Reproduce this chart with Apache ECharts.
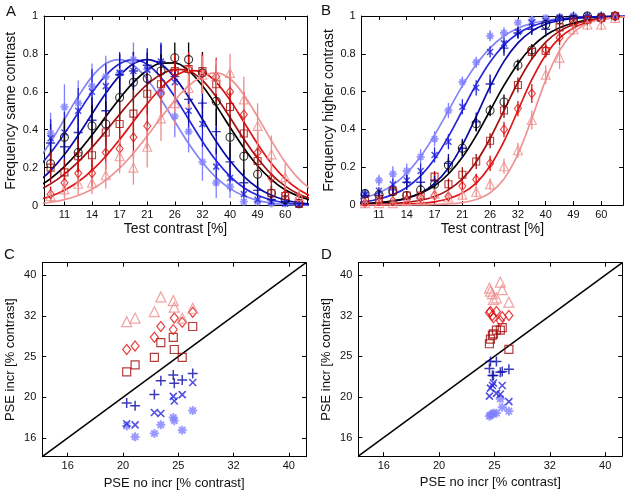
<!DOCTYPE html>
<html><head><meta charset="utf-8">
<script src="https://cdn.jsdelivr.net/npm/echarts@6/dist/echarts.min.js"></script>
<style>html,body{margin:0;padding:0;background:#fff}#c{width:629px;height:497px}</style>
</head><body><div id="c"></div>
<script>
// ================= DATA =================
// test contrast levels [%] (log spaced); fitted curves are read at curveContrast
const curveContrast = [8.90, 9.89, 11.0, 12.23, 13.60, 15.12, 16.82, 18.70, 20.80, 23.12, 25.71, 28.59, 31.80, 35.36, 39.32, 43.72, 48.61, 54.06, 60.11, 66.84, 74.33];
const testContrast = [9.89, 11.0, 12.23, 13.60, 15.12, 16.82, 18.70, 20.80, 23.12, 25.71, 28.59, 31.80, 35.36, 39.32, 43.72, 48.61, 54.06, 60.11, 66.84];
const xTickValues = [11.0, 13.60, 16.82, 20.80, 25.71, 31.80, 39.32, 48.61, 60.11];
const xTickLabels = ['11', '14', '17', '21', '26', '32', '40', '49', '60'];
const xRangeA = [9.40, 71.08];
const xRangeB = [9.64, 71.08];
const pseTickValues = [16, 20, 25, 31.25, 39.06];
const pseTickLabels = ['16', '20', '25', '32', '40'];
const pseRange = [14.44, 41.86];

// Panel A: frequency "same contrast"
const sameAst  = [0.38, 0.52, 0.54, 0.63, 0.68, 0.70, 0.77, 0.72, 0.60, 0.47, 0.39, 0.23, 0.12, 0.10, 0.02, 0.02, 0.01, 0.01, 0.005];
const sameX    = [0.355, 0.385, 0.50, 0.60, 0.63, 0.70, 0.71, 0.715, 0.76, 0.65, 0.50, 0.43, 0.205, 0.145, 0.06, 0.03, 0.02, 0.01, 0.005];
const samePlus = [0.33, 0.31, 0.385, 0.45, 0.50, 0.69, 0.71, 0.74, 0.76, 0.68, 0.56, 0.54, 0.39, 0.23, 0.12, 0.08, 0.03, 0.02, 0.01];
const sameCirc = [0.22, 0.36, 0.28, 0.42, 0.43, 0.57, 0.65, 0.67, 0.71, 0.78, 0.77, 0.70, 0.55, 0.36, 0.26, 0.165, 0.065, 0.03, 0.01];
const sameSq   = [0.20, 0.175, 0.26, 0.265, 0.385, 0.43, 0.485, 0.59, 0.64, 0.71, 0.72, 0.71, 0.64, 0.52, 0.38, 0.235, 0.065, 0.05, 0.01];
const sameDia  = [0.06, 0.12, 0.17, 0.17, 0.28, 0.30, 0.36, 0.42, 0.59, 0.70, 0.72, 0.70, 0.68, 0.60, 0.48, 0.28, 0.145, 0.06, 0.04];
const sameTri  = [0.05, 0.085, 0.115, 0.12, 0.16, 0.26, 0.20, 0.31, 0.46, 0.54, 0.62, 0.69, 0.68, 0.70, 0.56, 0.42, 0.27, 0.15, 0.05];
const errSameAst  = [0.11, 0.12, 0.12, 0.12, 0.11, 0.10, 0.09, 0.09, 0.10, 0.11, 0.11, 0.10, 0.08, 0.06, 0.02, 0.02, 0.01, 0.01, 0.01];
const errSameX    = [0.10, 0.11, 0.12, 0.12, 0.12, 0.11, 0.10, 0.09, 0.10, 0.11, 0.12, 0.12, 0.10, 0.07, 0.05, 0.03, 0.02, 0.01, 0.01];
const errSamePlus = [0.10, 0.11, 0.12, 0.12, 0.12, 0.11, 0.10, 0.09, 0.09, 0.10, 0.12, 0.13, 0.12, 0.10, 0.07, 0.05, 0.03, 0.02, 0.01];
const errSameCirc = [0.08, 0.10, 0.10, 0.11, 0.12, 0.12, 0.11, 0.10, 0.09, 0.08, 0.09, 0.11, 0.13, 0.12, 0.10, 0.07, 0.04, 0.03, 0.02];
const errSameSq   = [0.08, 0.07, 0.09, 0.09, 0.11, 0.12, 0.12, 0.11, 0.10, 0.09, 0.08, 0.09, 0.10, 0.12, 0.11, 0.09, 0.04, 0.03, 0.02];
const errSameDia  = [0.04, 0.06, 0.07, 0.07, 0.09, 0.10, 0.11, 0.12, 0.12, 0.10, 0.09, 0.09, 0.10, 0.11, 0.12, 0.11, 0.08, 0.04, 0.03];
const errSameTri  = [0.03, 0.05, 0.06, 0.06, 0.07, 0.09, 0.09, 0.11, 0.12, 0.12, 0.11, 0.10, 0.09, 0.10, 0.12, 0.12, 0.10, 0.07, 0.04];
const fitSameAst  = [0.231, 0.335, 0.455, 0.575, 0.680, 0.749, 0.770, 0.740, 0.666, 0.561, 0.443, 0.327, 0.227, 0.147, 0.089, 0.051, 0.027, 0.013, 0.006, 0.003, 0.001];
const fitSameX    = [0.192, 0.278, 0.379, 0.489, 0.597, 0.687, 0.748, 0.770, 0.745, 0.675, 0.573, 0.455, 0.338, 0.236, 0.154, 0.094, 0.054, 0.029, 0.014, 0.007, 0.003];
const fitSamePlus = [0.119, 0.184, 0.269, 0.371, 0.483, 0.592, 0.685, 0.748, 0.770, 0.745, 0.675, 0.573, 0.455, 0.338, 0.236, 0.154, 0.094, 0.054, 0.029, 0.014, 0.007];
const fitSameCirc = [0.094, 0.142, 0.205, 0.282, 0.372, 0.469, 0.565, 0.650, 0.714, 0.751, 0.753, 0.712, 0.632, 0.527, 0.413, 0.304, 0.210, 0.137, 0.083, 0.048, 0.026];
const fitSameSq   = [0.076, 0.114, 0.166, 0.230, 0.307, 0.392, 0.481, 0.566, 0.639, 0.691, 0.718, 0.711, 0.660, 0.573, 0.464, 0.351, 0.249, 0.164, 0.102, 0.059, 0.032];
const fitSameDia  = [0.029, 0.049, 0.081, 0.125, 0.185, 0.260, 0.348, 0.443, 0.537, 0.620, 0.681, 0.712, 0.705, 0.650, 0.556, 0.441, 0.325, 0.222, 0.141, 0.083, 0.045];
const fitSameTri  = [0.009, 0.017, 0.031, 0.053, 0.086, 0.134, 0.197, 0.276, 0.367, 0.463, 0.555, 0.631, 0.682, 0.700, 0.669, 0.585, 0.468, 0.342, 0.228, 0.139, 0.078];

// Panel B: frequency "higher contrast"
const higherAst  = [0.065, 0.13, 0.165, 0.18, 0.255, 0.35, 0.50, 0.65, 0.755, 0.895, 0.91, 0.965, 0.98, 0.99, 0.995, 1.0, 1.0, 1.0, 1.0];
const higherX    = [0.055, 0.075, 0.11, 0.13, 0.18, 0.265, 0.335, 0.52, 0.62, 0.81, 0.855, 0.915, 0.965, 0.975, 0.99, 0.995, 1.0, 1.0, 1.0];
const higherPlus = [0.05, 0.05, 0.08, 0.12, 0.12, 0.13, 0.22, 0.30, 0.44, 0.64, 0.83, 0.91, 0.93, 0.93, 0.99, 1.0, 1.0, 1.0, 1.0];
const higherCirc = [0.06, 0.055, 0.07, 0.05, 0.08, 0.11, 0.21, 0.30, 0.43, 0.50, 0.545, 0.74, 0.82, 0.955, 0.98, 0.98, 1.0, 0.99, 1.0];
const higherSq   = [0.02, 0.03, 0.075, 0.05, 0.05, 0.15, 0.11, 0.16, 0.23, 0.34, 0.50, 0.635, 0.81, 0.815, 0.94, 0.97, 0.98, 0.99, 1.0];
const higherDia  = [0.01, 0.02, 0.02, 0.03, 0.04, 0.05, 0.045, 0.10, 0.135, 0.22, 0.40, 0.51, 0.59, 0.82, 0.885, 0.96, 0.98, 0.985, 1.0];
const higherTri  = [0.01, 0.01, 0.01, 0.02, 0.03, 0.06, 0.04, 0.055, 0.07, 0.11, 0.205, 0.29, 0.45, 0.69, 0.78, 0.93, 0.955, 0.955, 0.99];
const errHigherAst  = [0.02, 0.03, 0.04, 0.04, 0.04, 0.04, 0.04, 0.03, 0.03, 0.03, 0.03, 0.02, 0.02, 0.01, 0.01, 0.01, 0.01, 0.01, 0.01];
const errHigherX    = [0.02, 0.02, 0.03, 0.03, 0.04, 0.04, 0.04, 0.04, 0.04, 0.03, 0.03, 0.03, 0.02, 0.02, 0.01, 0.01, 0.01, 0.01, 0.01];
const errHigherPlus = [0.02, 0.02, 0.03, 0.04, 0.05, 0.04, 0.05, 0.05, 0.05, 0.05, 0.04, 0.03, 0.03, 0.04, 0.02, 0.01, 0.01, 0.01, 0.01];
const errHigherCirc = [0.02, 0.02, 0.02, 0.02, 0.03, 0.03, 0.04, 0.04, 0.04, 0.03, 0.04, 0.03, 0.03, 0.02, 0.02, 0.01, 0.01, 0.01, 0.01];
const errHigherSq   = [0.01, 0.02, 0.02, 0.02, 0.02, 0.03, 0.03, 0.04, 0.04, 0.04, 0.04, 0.04, 0.04, 0.03, 0.02, 0.02, 0.01, 0.01, 0.01];
const errHigherDia  = [0.01, 0.01, 0.01, 0.02, 0.02, 0.02, 0.02, 0.03, 0.03, 0.04, 0.04, 0.04, 0.05, 0.04, 0.04, 0.02, 0.02, 0.01, 0.01];
const errHigherTri  = [0.01, 0.01, 0.01, 0.01, 0.02, 0.02, 0.02, 0.03, 0.03, 0.03, 0.04, 0.04, 0.05, 0.05, 0.06, 0.03, 0.03, 0.03, 0.02];
const fitHigherAst  = [0.024, 0.040, 0.065, 0.106, 0.169, 0.257, 0.370, 0.500, 0.630, 0.743, 0.831, 0.894, 0.935, 0.961, 0.976, 0.986, 0.992, 0.995, 0.997, 0.998, 0.999];
const fitHigherX    = [0.011, 0.018, 0.032, 0.055, 0.093, 0.154, 0.243, 0.362, 0.500, 0.638, 0.757, 0.846, 0.907, 0.945, 0.968, 0.982, 0.990, 0.994, 0.997, 0.998, 0.999];
const fitHigherPlus = [0.003, 0.005, 0.010, 0.019, 0.035, 0.063, 0.114, 0.196, 0.317, 0.468, 0.626, 0.760, 0.858, 0.920, 0.956, 0.976, 0.987, 0.993, 0.996, 0.998, 0.999];
const fitHigherCirc = [0.004, 0.008, 0.013, 0.022, 0.037, 0.062, 0.102, 0.164, 0.252, 0.367, 0.500, 0.633, 0.748, 0.836, 0.898, 0.938, 0.963, 0.978, 0.987, 0.993, 0.996];
const fitHigherSq   = [0.001, 0.002, 0.004, 0.008, 0.014, 0.025, 0.045, 0.080, 0.138, 0.228, 0.352, 0.500, 0.648, 0.772, 0.862, 0.920, 0.955, 0.975, 0.986, 0.993, 0.996];
const fitHigherDia  = [0.000, 0.001, 0.001, 0.002, 0.005, 0.009, 0.017, 0.033, 0.063, 0.116, 0.206, 0.337, 0.500, 0.663, 0.794, 0.884, 0.937, 0.967, 0.983, 0.991, 0.996];
const fitHigherTri  = [0.000, 0.000, 0.000, 0.000, 0.001, 0.001, 0.003, 0.006, 0.013, 0.029, 0.065, 0.138, 0.269, 0.458, 0.661, 0.818, 0.912, 0.960, 0.982, 0.992, 0.997];

// Panel C: PSE [% contrast], 8 observers
const cNoIncr   = [20.3, 21.0, 22.7, 23.3, 24.5, 24.6, 25.4, 26.5];
const cIncrAst  = [17.1, 16.1, 16.4, 17.2, 17.9, 17.6, 16.7, 18.6];
const cIncrX    = [17.3, 17.2, 18.4, 18.3, 20.1, 19.6, 20.3, 21.7];
const cIncrPlus = [19.4, 19.1, 20.3, 21.9, 22.6, 21.6, 22.0, 22.8];
const cIncrSq   = [23.0, 23.9, 24.9, 27.0, 27.8, 26.0, 24.9, 29.5];
const cIncrDia  = [26.0, 26.5, 27.8, 29.5, 29.0, 30.9, 30.2, 31.9];
const cIncrTri  = [30.3, 30.9, 32.0, 34.7, 34.0, 32.8, 30.9, 32.6];

// Panel D: PSE [% contrast], 8 observers
const dNoIncr   = [24.5, 24.6, 24.8, 24.9, 25.2, 25.6, 25.8, 26.5];
const dIncrAst  = [18.0, 18.1, 18.2, 18.3, 18.3, 19.8, 18.9, 18.5];
const dIncrX    = [20.1, 21.0, 21.3, 21.6, 20.4, 20.3, 21.3, 19.5];
const dIncrPlus = [23.4, 24.3, 22.5, 22.5, 24.3, 22.9, 23.0, 23.3];
const dIncrSq   = [26.8, 27.5, 28.1, 28.3, 28.9, 28.9, 29.3, 26.0];
const dIncrDia  = [31.8, 32.0, 31.3, 30.9, 32.0, 30.4, 31.1, 31.3];
const dIncrTri  = [36.4, 35.8, 35.3, 34.2, 34.5, 37.6, 36.1, 33.7];

// ================= STYLE =================
const FONT = '"Liberation Sans", Arial, Helvetica, sans-serif';
const L = Math.log;
const AST = 'path://M5,0L5,10M0,5L10,5M1.5,1.5L8.5,8.5M8.5,1.5L1.5,8.5';
const XS = 'path://M0,0L10,10M10,0L0,10';
const PLUS = 'path://M5,0L5,10M0,5L10,5';
const styles = [
  {sym: AST, size: 8, color: '#8080ff', line: '#8585f2', bw: 1.8},
  {sym: XS, size: 6, color: '#2424dc', line: '#2626e0', bw: 1.5},
  {sym: PLUS, size: 9, color: '#0a0aa6', line: '#0a0aa8', bw: 1.4},
  {sym: 'circle', size: 8, color: '#000000', line: '#000000', bw: 1.1},
  {sym: 'rect', size: 7, color: '#a00c0c', line: '#a31010', bw: 1.1},
  {sym: 'diamond', size: [7, 9], color: '#dd1111', line: '#e01515', bw: 1.1},
  {sym: 'triangle', size: 9, color: '#ef8c8c', line: '#f09393', bw: 1.1}
];
const sameData = [sameAst, sameX, samePlus, sameCirc, sameSq, sameDia, sameTri];
const sameErr = [errSameAst, errSameX, errSamePlus, errSameCirc, errSameSq, errSameDia, errSameTri];
const sameFit = [fitSameAst, fitSameX, fitSamePlus, fitSameCirc, fitSameSq, fitSameDia, fitSameTri];
const higherData = [higherAst, higherX, higherPlus, higherCirc, higherSq, higherDia, higherTri];
const higherErr = [errHigherAst, errHigherX, errHigherPlus, errHigherCirc, errHigherSq, errHigherDia, errHigherTri];
const higherFit = [fitHigherAst, fitHigherX, fitHigherPlus, fitHigherCirc, fitHigherSq, fitHigherDia, fitHigherTri];
const cData = [cIncrAst, cIncrX, cIncrPlus, null, cIncrSq, cIncrDia, cIncrTri];
const dData = [dIncrAst, dIncrX, dIncrPlus, null, dIncrSq, dIncrDia, dIncrTri];

const grids = [
  {left: 44, top: 16, width: 263, height: 189.5},
  {left: 361.7, top: 16, width: 261.5, height: 189},
  {left: 42.3, top: 262.7, width: 263.7, height: 194},
  {left: 358.3, top: 262.7, width: 264, height: 193.5}
];

function fmt(vals, labels) {
  const lv = vals.map(L);
  return v => { for (let i = 0; i < lv.length; i++) if (Math.abs(lv[i] - v) < 1e-6) return labels[i]; return ''; };
}
const nameStyleAB = {fontSize: 14, fontFamily: FONT, color: '#111'};
const nameStyleCD = {fontSize: 13, fontFamily: FONT, color: '#111'};
function logAxis(grid, pos, range, vals, labels, name, gap, ns) {
  const show = !!name;
  return {
    type: 'value', gridIndex: grid, position: pos, min: L(range[0]), max: L(range[1]),
    splitLine: {show: false},
    axisLine: {show: true, onZero: false, lineStyle: {color: '#000', width: 1}},
    axisTick: {show: true, inside: true, length: 4, customValues: vals.map(L), lineStyle: {color: '#000', width: 1}},
    axisLabel: {show: show, customValues: vals.map(L), formatter: fmt(vals, labels), color: '#111', fontSize: 11, fontFamily: FONT,
                margin: (pos === 'left') ? 6 : 4},
    name: name || '', nameLocation: 'middle', nameGap: gap || 0, nameTextStyle: ns || nameStyleCD
  };
}
function linAxis(grid, pos, name, gap) {
  const show = !!name;
  return {
    type: 'value', gridIndex: grid, position: pos, min: 0, max: 1, interval: 0.2,
    splitLine: {show: false},
    axisLine: {show: true, onZero: false, lineStyle: {color: '#000', width: 1}},
    axisTick: {show: true, inside: true, length: 4, lineStyle: {color: '#000', width: 1}},
    axisLabel: {show: show, color: '#111', fontSize: 11, fontFamily: FONT, margin: 6},
    name: name || '', nameLocation: 'middle', nameGap: gap || 0, nameTextStyle: nameStyleAB
  };
}

const xAxis = [
  logAxis(0, 'bottom', xRangeA, xTickValues, xTickLabels, 'Test contrast [%]', 17, nameStyleAB),
  logAxis(0, 'top', xRangeA, xTickValues, xTickLabels),
  logAxis(1, 'bottom', xRangeB, xTickValues, xTickLabels, 'Test contrast [%]', 17, nameStyleAB),
  logAxis(1, 'top', xRangeB, xTickValues, xTickLabels),
  logAxis(2, 'bottom', pseRange, pseTickValues, pseTickLabels, 'PSE no incr [% contrast]', 20),
  logAxis(2, 'top', pseRange, pseTickValues, pseTickLabels),
  logAxis(3, 'bottom', pseRange, pseTickValues, pseTickLabels, 'PSE no incr [% contrast]', 20),
  logAxis(3, 'top', pseRange, pseTickValues, pseTickLabels)
];
const yAxis = [
  linAxis(0, 'left', 'Frequency same contrast', 26),
  linAxis(0, 'right'),
  linAxis(1, 'left', 'Frequency higher contrast', 26),
  linAxis(1, 'right'),
  logAxis(2, 'left', pseRange, pseTickValues, pseTickLabels, 'PSE incr [% contrast]', 25),
  logAxis(2, 'right', pseRange, pseTickValues, pseTickLabels),
  logAxis(3, 'left', pseRange, pseTickValues, pseTickLabels, 'PSE incr [% contrast]', 25),
  logAxis(3, 'right', pseRange, pseTickValues, pseTickLabels)
];

const series = [];
function addPsychPanel(ax, data, errs, fits) {
  styles.forEach((s, k) => {
    series.push({
      type: 'line', xAxisIndex: ax, yAxisIndex: ax, silent: true, z: 2,
      data: curveContrast.map((c, i) => [L(c), fits[k][i]]),
      smooth: 0.35, showSymbol: false, clip: true,
      lineStyle: {color: s.line, width: 1.7}
    });
  });
  styles.forEach((s, k) => {
    series.push({
      type: 'custom', xAxisIndex: ax, yAxisIndex: ax, silent: true, z: 3, clip: true,
      encode: {x: 0, y: 1},
      data: testContrast.map((c, i) => [L(c), data[k][i], errs[k][i]]),
      renderItem: (params, api) => {
        const x = api.value(0), y = api.value(1), e = api.value(2);
        const p1 = api.coord([x, y - e]), p2 = api.coord([x, y + e]);
        return {type: 'line', shape: {x1: p1[0], y1: p1[1], x2: p2[0], y2: p2[1]},
                style: {stroke: s.color, lineWidth: 1.3}};
      }
    });
  });
  styles.forEach((s, k) => {
    series.push({
      type: 'scatter', xAxisIndex: ax, yAxisIndex: ax, silent: true, z: 4,
      data: testContrast.map((c, i) => [L(c), data[k][i]]),
      symbol: s.sym, symbolSize: s.size,
      itemStyle: {color: 'transparent', borderColor: s.color, borderWidth: s.bw}
    });
  });
}
addPsychPanel(0, sameData, sameErr, sameFit);
addPsychPanel(2, higherData, higherErr, higherFit);

function addPsePanel(ax, xs, data) {
  series.push({
    type: 'line', xAxisIndex: ax, yAxisIndex: ax, silent: true, z: 2, showSymbol: false,
    data: [[L(pseRange[0]), L(pseRange[0])], [L(pseRange[1]), L(pseRange[1])]],
    lineStyle: {color: '#000', width: 1.5}
  });
  styles.forEach((s, k) => {
    if (!data[k]) return;
    series.push({
      type: 'scatter', xAxisIndex: ax, yAxisIndex: ax, silent: true, z: 4,
      data: xs.map((x, i) => [L(x), L(data[k][i])]),
      symbol: s.sym, symbolSize: Array.isArray(s.size) ? [s.size[0] + 1, s.size[1] + 1] : s.size + 1,
      itemStyle: {color: 'transparent', borderColor: s.color, borderWidth: s.bw + 0.1}
    });
  });
}
addPsePanel(4, cNoIncr, cData);
addPsePanel(6, dNoIncr, dData);

const letter = (t, x, y) => ({type: 'text', left: x, top: y, style: {text: t, font: '15px ' + FONT, fill: '#111'}});

const chart = echarts.init(document.getElementById('c'));
chart.setOption({
  animation: false,
  backgroundColor: '#ffffff',
  textStyle: {fontFamily: FONT},
  grid: grids,
  xAxis: xAxis,
  yAxis: yAxis,
  series: series,
  graphic: [letter('A', 6, 4), letter('B', 321, 3), letter('C', 4, 247), letter('D', 321, 247)]
});
</script>
</body></html>
